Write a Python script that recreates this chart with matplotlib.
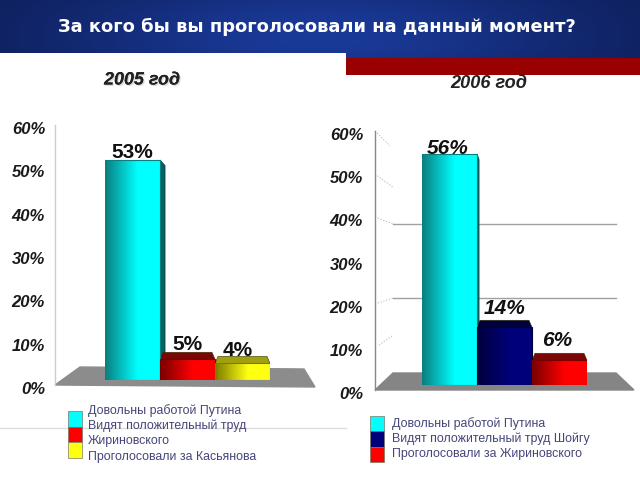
import numpy as np
import matplotlib
matplotlib.use('Agg')
import matplotlib.pyplot as plt
from matplotlib.colors import LinearSegmentedColormap
from matplotlib.patches import Rectangle
from matplotlib.transforms import ScaledTranslation
import matplotlib.patheffects as pe

plt.rcParams['font.family'] = ['Liberation Sans', 'DejaVu Sans']

title = "За кого бы вы проголосовали на данный момент?"
ticks = [0, 10, 20, 30, 40, 50, 60]
tick_labels = ["0%", "10%", "20%", "30%", "40%", "50%", "60%"]

year_2005 = "2005 год"
values_2005 = [53, 5, 4]
labels_2005 = ["53%", "5%", "4%"]
colors_2005 = ["cyan", "red", "yellow"]
legend_2005 = ["Довольны работой Путина", "Видят положительный труд", "Жириновского", "Проголосовали за Касьянова"]

year_2006 = "2006 год"
values_2006 = [56, 14, 6]
labels_2006 = ["56%", "14%", "6%"]
colors_2006 = ["cyan", "navy", "red"]
legend_2006 = ["Довольны работой Путина", "Видят положительный труд Шойгу", "Проголосовали за Жириновского"]

# dark end of the bar gradient, front colour, top/side colour
shades = {
    "cyan": ("#0a7f80", "#00ffff", "#066264"),
    "red": ("#7a0000", "#ff0000", "#7a0606"),
    "yellow": ("#7d7d00", "#ffff10", "#a0a010"),
    "navy": ("#00003c", "#00007a", "#00003c"),
}
PXW, PXH = 640, 480


def px_axes(x0, y0, x1, y1, z):
    ax = fig.add_axes([x0 / PXW, 1 - y1 / PXH, (x1 - x0) / PXW, (y1 - y0) / PXH], zorder=z)
    ax.patch.set_visible(False)
    return ax


def tick_axis(x, top, bottom, spine_color, label_right):
    ax = px_axes(x, top, x + 10, bottom, 2)
    ax.set_ylim(0, 60)
    ax.set_xticks([])
    ax.set_yticks(ticks)
    ax.set_yticklabels(tick_labels, fontsize=12, fontweight='bold', fontstyle='italic', color='#1a1a1a')
    # pad is in points, figure is 100 dpi
    ax.tick_params(axis='y', length=0, pad=(x - label_right) * 0.72)
    shift = ScaledTranslation(0, -3 / 100, fig.dpi_scale_trans)
    for lab in ax.get_yticklabels():
        lab.set_transform(lab.get_transform() + shift)
    for s in ['top', 'right', 'bottom']:
        ax.spines[s].set_visible(False)
    ax.spines['left'].set_color(spine_color)
    ax.spines['left'].set_linewidth(1)


def bars(x0, base, px_per_pct, side_px, values, labels, colors, label_gaps, styles):
    bw = 55
    ax = px_axes(x0, base - 60 * px_per_pct, x0 + 3 * bw, base, 3)
    ax.set_xlim(-0.5, 2.5)
    ax.set_ylim(0, 60)
    ax.axis('off')
    dx = 5 / bw
    dy = 7 / px_per_pct
    for i, (v, c) in enumerate(zip(values, colors)):
        dark, bright, face = shades[c]
        l, r = i - 0.5, i + 0.5
        if v > 30:
            # tall bar: only the side is seen
            sx = side_px / bw
            ax.fill([r, r + sx, r + sx, r], [v, v - dy * 0.8, dy * 0.5, 0], color=face, ec='#063c3c', lw=0.6, zorder=3, clip_on=False)
        else:
            ax.fill([l, r, r - dx * 0.6, l + dx * 0.6], [v, v, v + dy, v + dy], color=face, ec='#333300', lw=0.4, zorder=3, clip_on=False)
        cmap = LinearSegmentedColormap.from_list(c + "_bar", [(0, dark), (0.6, bright), (1, bright)])
        ax.imshow(np.linspace(0, 1, 64).reshape(1, -1), cmap=cmap, extent=(l, r, 0, v), aspect='auto', zorder=4)
        ax.add_patch(Rectangle((l, 0), 1, v, fill=False, ec=dark, lw=0.8, zorder=5))
        ax.text(i + styles[1][i], v + label_gaps[i] / px_per_pct, labels[i], ha='center', va='center',
                fontsize=styles[0], fontweight='bold', fontstyle=styles[2], color='#111111', zorder=2, clip_on=False)
    ax.set_xlim(-0.5, 2.5)
    ax.set_ylim(0, 60)


def legend(x_box, x_text, y_box, y_text, box_h, lines, colors):
    for i, c in enumerate(colors):
        bg.add_patch(Rectangle((x_box, y_box + i * box_h), 14, box_h, fc=shades[c][1], ec='#777766', lw=0.5, zorder=3))
    for i, t in enumerate(lines):
        bg.text(x_text, y_text + i * 15.2, t, fontsize=8.9, color='#45457a', va='center', zorder=4)


fig = plt.figure(figsize=(6.4, 4.8), dpi=100)
bg = fig.add_axes([0, 0, 1, 1], zorder=1)
bg.set_xlim(0, PXW)
bg.set_ylim(PXH, 0)
bg.axis('off')

# slide header
yy, xx = np.mgrid[0:1:60j, 0:1:200j]
glow = np.exp(-(((xx - 0.5) / 0.42) ** 2 + ((yy - 0.6) / 1.1) ** 2))
head = LinearSegmentedColormap.from_list("head", ["#0f2160", "#1a3a98"])
bg.imshow(glow, cmap=head, extent=(0, 640, 60, 0), aspect='auto', zorder=0)
bg.add_patch(Rectangle((0, 53), 346, 8, fc='white', ec='none', zorder=1))
bg.add_patch(Rectangle((346, 58), 294, 17, fc='#990000', ec='none', zorder=1))
bg.plot([0, 346], [428, 428], color='#dddddd', lw=1, zorder=1)
bg.set_xlim(0, PXW)
bg.set_ylim(PXH, 0)
bg.text(316.5, 27, title, color='white', fontsize=12.85, fontweight='bold', ha='center', va='center',
        family=['DejaVu Sans'], zorder=5)
t05 = bg.text(142, 80, year_2005, fontsize=12.9, fontweight='bold', fontstyle='italic', color='#222222', ha='center', va='center', zorder=5)
t05.set_path_effects([pe.withSimplePatchShadow(offset=(1, -1), shadow_rgbFace='#bbbbbb', alpha=0.5), pe.Normal()])
bg.text(488.5, 83, year_2006, fontsize=13.1, fontweight='bold', fontstyle='italic', color='#222222', ha='center', va='center', zorder=5)

# floors and back wall
bg.fill([55, 80, 304, 315], [385, 367, 369, 387], color='#8c8c8c', zorder=1)
bg.fill([375, 393, 616, 634], [390, 373, 373, 390], color='#858585', zorder=1)
for y in (224, 298):
    bg.plot([393, 616], [y, y], color='#a0a0a0', lw=1, zorder=1)
for xs, ys in [((375, 390), (131, 146)), ((375, 394), (174, 188)), ((375, 393), (217, 224)),
               ((375, 393), (304, 298)), ((379, 392), (345, 336))]:
    bg.plot(xs, ys, color='#bbbbbb', lw=0.8, ls=':', zorder=1)

tick_axis(55, 125, 385, '#cccccc', 45)
tick_axis(375, 131, 390, '#888888', 363)

bars(105, 380, 4.15, 5, values_2005, labels_2005, colors_2005, [8, 15, 13], (15, [0.0, 0.0, -0.08], 'normal'))
bars(422, 385, 4.125, 2, values_2006, labels_2006, colors_2006, [6, 19, 20], (15, [-0.04, 0.0, -0.05], 'italic'))

legend(68, 88, 411, 411, 15.5, legend_2005, colors_2005)
legend(370, 392, 416, 423.5, 15.3, legend_2006, colors_2006)

fig.savefig('out.png', dpi=100)
